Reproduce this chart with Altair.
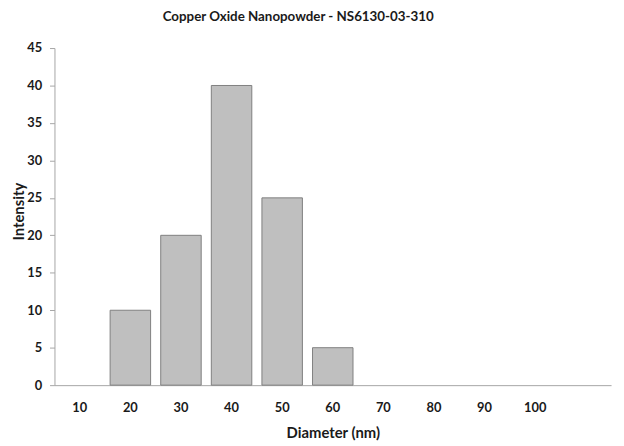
import altair as alt
import pandas as pd

diameters = ["10", "20", "30", "40", "50", "60", "70", "80", "90", "100"]
intensity = [0, 10, 20, 40, 25, 5, 0, 0, 0, 0]
x_domain = diameters + [" "]
y_ticks = [0, 5, 10, 15, 20, 25, 30, 35, 40, 45]

df = pd.DataFrame({"Diameter": diameters, "Intensity": intensity})

FONT = "Lato"

chart = alt.Chart(df).transform_filter(
    alt.datum.Intensity > 0
).mark_bar(
    fill="#bfbfbf", stroke="#7f7f7f", strokeWidth=1
).encode(
    x=alt.X("Diameter:N", scale=alt.Scale(domain=x_domain, paddingInner=0.2, paddingOuter=0.1),
            sort=None,
            axis=alt.Axis(title="Diameter (nm)", labelAngle=0, ticks=False, labelPadding=17,
                          domainColor="#a6a6a6", titlePadding=11)),
    y=alt.Y("Intensity:Q", scale=alt.Scale(domain=[0, 45], nice=False),
            axis=alt.Axis(title="Intensity", values=y_ticks, grid=False, tickSize=5,
                          tickColor="#a6a6a6", domainColor="#a6a6a6", labelPadding=8,
                          titleX=-36, titleY=165, titleAngle=-90, titleAlign="center",
                          titleBaseline="middle")),
).properties(
    width=563, height=341,
    title=alt.TitleParams("Copper Oxide Nanopowder - NS6130-03-310", dx=-35, offset=19,
                          fontSize=13.5, font=FONT, fontWeight="bold", color="#1a1a1a"),
    autosize=alt.AutoSizeParams(type="none"),
    padding={"left": 47, "top": 38, "right": 5, "bottom": 55},
).configure_axis(
    labelFont=FONT, labelFontSize=13, labelFontWeight="bold", labelColor="#1a1a1a",
    titleFont=FONT, titleFontSize=15, titleFontWeight="bold", titleColor="#1a1a1a",
).configure_view(stroke=None)

chart.save("out.html", embed_options={"renderer": "svg", "actions": False})
